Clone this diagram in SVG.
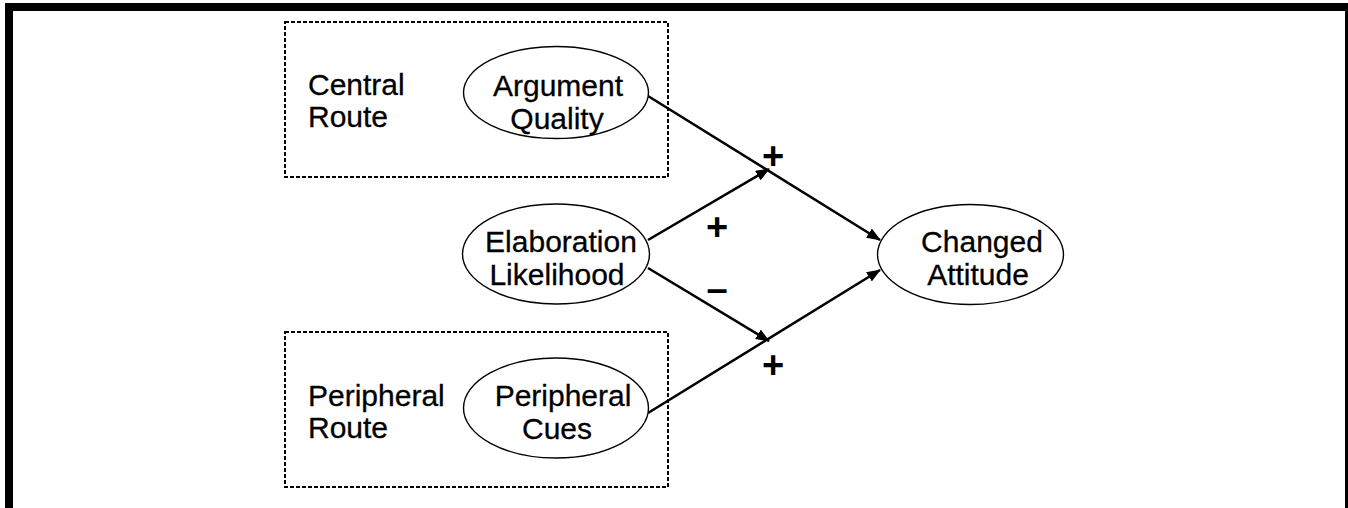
<svg xmlns="http://www.w3.org/2000/svg" width="1348" height="508" viewBox="0 0 1348 508">
<defs>
<style>
.lbl{font-family:"Liberation Sans",Arial,sans-serif;font-size:30px;fill:#000;stroke:#000;stroke-width:0.3}
.mid{text-anchor:middle}
.sign{font-family:"Liberation Sans",Arial,sans-serif;font-size:38px;font-weight:bold;text-anchor:middle;fill:#000}
.node{fill:#fff;stroke:#000;stroke-width:1.4}
.route{fill:none;stroke:#000;stroke-width:2;stroke-dasharray:4 2}
.edge{fill:none;stroke:#000;stroke-width:2.6;marker-end:url(#ah)}
</style>
<marker id="ah" viewBox="0 0 14 11" refX="13" refY="5.5" markerWidth="14" markerHeight="11" markerUnits="userSpaceOnUse" orient="auto">
<path d="M0,0 L14,5.5 L0,11 Z" fill="#000"/>
</marker>
</defs>
<rect x="0" y="0" width="1348" height="508" fill="#fff"/>
<rect x="9" y="7" width="1340" height="600" fill="none" stroke="#000" stroke-width="8"/>

<g id="central-route">
<rect class="route" x="285" y="22" width="383" height="155"/>
<text class="lbl" x="308" y="95">Central</text>
<text class="lbl" x="308" y="127">Route</text>
</g>
<g id="peripheral-route">
<rect class="route" x="285" y="332" width="383" height="155"/>
<text class="lbl" x="308" y="406">Peripheral</text>
<text class="lbl" x="308" y="438">Route</text>
</g>

<g id="connectors">
<line class="edge" x1="648" y1="96" x2="880" y2="240"/>
<line class="edge" x1="648" y1="413" x2="880" y2="270"/>
<line class="edge" x1="648" y1="240" x2="769" y2="169"/>
<line class="edge" x1="648" y1="268" x2="769" y2="341"/>
</g>

<g id="argument-quality">
<ellipse class="node" cx="556" cy="92.5" rx="92.5" ry="46"/>
<text class="lbl mid" x="558" y="96">Argument</text>
<text class="lbl mid" x="557" y="129">Quality</text>
</g>
<g id="elaboration-likelihood">
<ellipse class="node" cx="556" cy="254" rx="93.5" ry="50"/>
<text class="lbl mid" x="561" y="252">Elaboration</text>
<text class="lbl mid" x="557" y="285">Likelihood</text>
</g>
<g id="peripheral-cues">
<ellipse class="node" cx="556" cy="408" rx="92.5" ry="50"/>
<text class="lbl mid" x="563" y="406">Peripheral</text>
<text class="lbl mid" x="557" y="439">Cues</text>
</g>
<g id="changed-attitude">
<ellipse class="node" cx="970.5" cy="254.5" rx="93" ry="50"/>
<text class="lbl mid" x="982" y="252">Changed</text>
<text class="lbl mid" x="978" y="285">Attitude</text>
</g>

<g id="signs">
<text class="sign" x="773" y="169">+</text>
<text class="sign" x="717" y="240">+</text>
<text class="sign" x="717" y="302">–</text>
<text class="sign" x="773" y="378">+</text>
</g>
</svg>
